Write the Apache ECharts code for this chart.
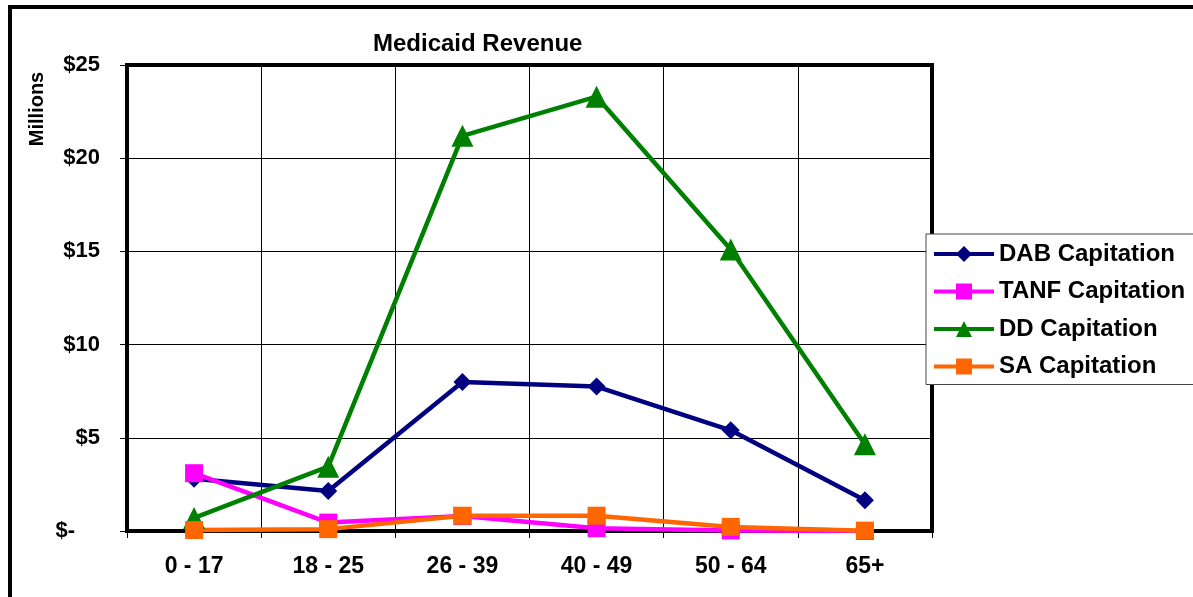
<!DOCTYPE html>
<html>
<head>
<meta charset="utf-8">
<script src="https://cdn.jsdelivr.net/npm/echarts@6/dist/echarts.min.js"></script>
<style>
html,body{margin:0;padding:0;background:#fff;}
#chart{width:1193px;height:597px;}
</style>
</head>
<body>
<div id="chart"></div>
<script>
const categories = ['0 - 17', '18 - 25', '26 - 39', '40 - 49', '50 - 64', '65+'];
const dabCapitation = [2.8, 2.15, 8.0, 7.75, 5.4, 1.65];
const tanfCapitation = [3.1, 0.45, 0.8, 0.15, 0.03, 0.0];
const ddCapitation = [0.7, 3.45, 21.2, 23.3, 15.1, 4.65];
const saCapitation = [0.05, 0.1, 0.82, 0.82, 0.22, 0.02];
const yTicks = [0, 5, 10, 15, 20, 25];

const FONT = 'Arial, "Liberation Sans", sans-serif';
const chart = echarts.init(document.getElementById('chart'));

function mkSeries(name, data, color, symbol, size) {
  return {
    name: name, type: 'line', data: data,
    symbol: symbol, symbolSize: size,
    lineStyle: {color: color, width: 4.5},
    itemStyle: {color: color},
    emphasis: {disabled: true}
  };
}

chart.setOption({
  animation: false,
  backgroundColor: '#fff',
  title: {
    text: 'Medicaid Revenue',
    left: 368, top: 27,
    textStyle: {fontFamily: FONT, fontWeight: 'bold', fontSize: 24, color: '#000'}
  },
  graphic: [
    {type: 'rect', z: -10, shape: {x: 10, y: 7, width: 1400, height: 800},
     style: {fill: 'none', stroke: '#000', lineWidth: 4}},
    {type: 'text', x: 37, y: 109, rotation: Math.PI / 2,
     style: {text: 'Millions', fontFamily: FONT, fontWeight: 'bold', fontSize: 20, fill: '#000',
             align: 'center', verticalAlign: 'middle'}}
  ],
  legend: {
    orient: 'vertical',
    left: 926, top: 234,
    padding: [8, 40, 6, 6],
    itemWidth: 60, itemHeight: 20, itemGap: 13.5,
    backgroundColor: '#fff',
    borderColor: '#444', borderWidth: 1,
    lineStyle: {width: 4},
    textStyle: {fontFamily: FONT, fontWeight: 'bold', fontSize: 24, color: '#000'},
    data: ['DAB Capitation', 'TANF Capitation', 'DD Capitation', 'SA Capitation']
  },
  grid: {
    left: 127, top: 65, right: 261, bottom: 66,
    show: true, borderColor: '#000', borderWidth: 4, backgroundColor: '#fff'
  },
  xAxis: {
    type: 'category', data: categories, boundaryGap: true,
    axisLine: {show: true, lineStyle: {color: '#000', width: 4}},
    axisTick: {show: true, interval: 0, length: 7, lineStyle: {color: '#000', width: 1}},
    splitLine: {show: true, interval: 0, lineStyle: {color: '#000', width: 1}},
    axisLabel: {margin: 24, fontFamily: FONT, fontWeight: 'bold', fontSize: 23, color: '#000', interval: 0}
  },
  yAxis: {
    type: 'value', min: 0, max: 25, interval: 5,
    axisLine: {show: true, lineStyle: {color: '#000', width: 4}},
    axisTick: {show: true, length: 7, lineStyle: {color: '#000', width: 1}},
    splitLine: {show: true, lineStyle: {color: '#000', width: 1}},
    axisLabel: {
      margin: 27, fontFamily: FONT, fontWeight: 'bold', fontSize: 22, color: '#000',
      formatter: function (v) { return v === 0 ? '{z|$-}' : '$' + v; },
      rich: {z: {fontFamily: FONT, fontWeight: 'bold', fontSize: 22, color: '#000', padding: [0, 25, 0, 0]}}
    }
  },
  series: [
    mkSeries('DAB Capitation', dabCapitation, '#000080', 'diamond', 18),
    mkSeries('TANF Capitation', tanfCapitation, '#FF00FF', 'rect', 18),
    mkSeries('DD Capitation', ddCapitation, '#008000', 'triangle', 22),
    mkSeries('SA Capitation', saCapitation, '#FF6600', 'rect', 18)
  ]
});
</script>
</body>
</html>
